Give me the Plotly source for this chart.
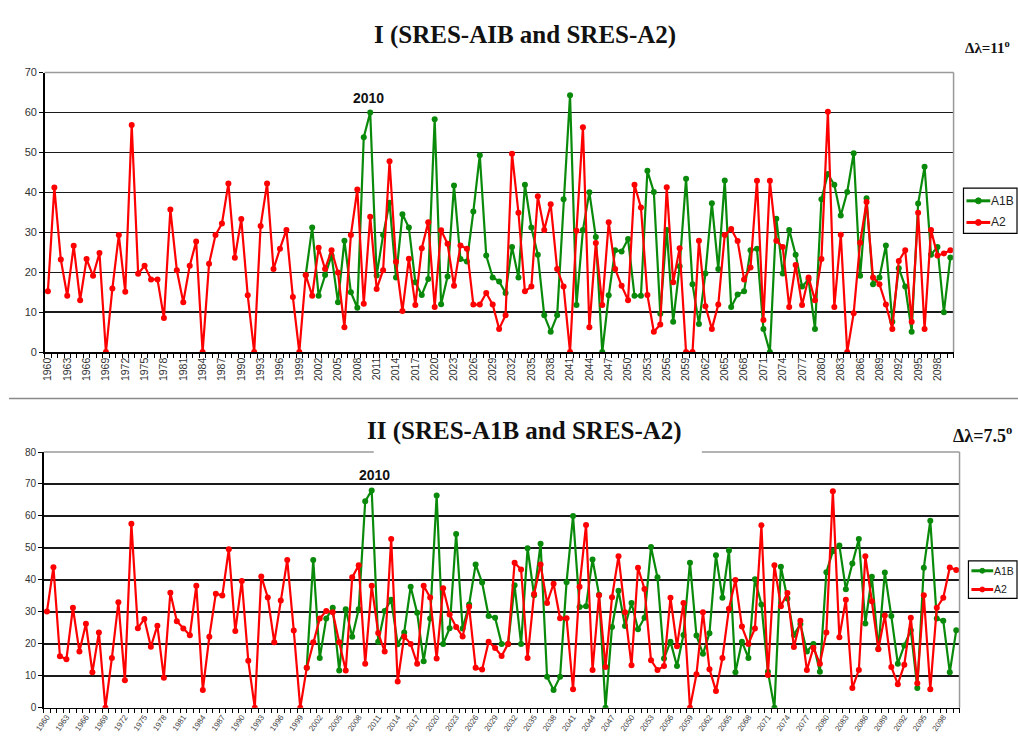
import plotly.graph_objects as go

years = list(range(1960, 2101))
years_a1b = list(range(2000, 2101))
tick_years = list(range(1960, 2101, 3))
tick_labels = [str(y) for y in tick_years]

top_a2 = [15.2, 41.2, 23.2, 14.1, 26.6, 13.0, 23.3, 19.1, 24.8, 0,
          15.9, 29.3, 15.1, 56.9, 19.6, 21.6, 18.2, 18.2, 8.5, 35.7,
          20.5, 12.5, 21.6, 27.7, 0, 22.1, 29.3, 32.2, 42.2, 23.6,
          33.3, 14.2, 0, 31.6, 42.2, 20.8, 25.9, 30.6, 13.8, 0,
          19.3, 14.1, 26.1, 20.8, 25.5, 19.9, 6.2, 29.3, 40.7, 12.1,
          33.9, 15.8, 20.5, 47.8, 22.6, 10.3, 23.4, 11.8, 26.0, 32.5,
          11.3, 30.5, 27.1, 16.6, 26.7, 25.9, 11.9, 11.9, 14.8, 11.9,
          5.8, 9.2, 49.7, 34.9, 15.2, 16.4, 39.0, 30.6, 37.0, 20.8,
          16.4, 0, 30.4, 56.3, 6.2, 27.3, 11.8, 32.5, 20.8, 16.6,
          13.0, 41.9, 36.2, 14.3, 5.1, 6.9, 41.3, 17.5, 26.0, 0,
          0, 27.9, 11.5, 5.8, 11.9, 29.3, 30.8, 27.8, 18.2, 21.2,
          42.9, 8.0, 42.9, 27.9, 26.3, 11.3, 21.8, 11.8, 18.7, 13.0,
          23.3, 60.2, 11.3, 29.4, 0, 9.7, 27.4, 37.6, 18.7, 17.0,
          11.9, 5.8, 22.8, 25.5, 7.6, 34.9, 5.8, 30.6, 24.2, 24.7,
          25.5]

top_a1b = [19.3, 31.2, 14.1, 19.3, 24.2, 12.5, 27.9, 15.0, 11.1, 53.8,
           60.0, 19.2, 29.3, 37.4, 18.7, 34.5, 31.2, 17.5, 14.3, 18.3,
           58.3, 12.0, 18.9, 41.7, 23.3, 22.7, 35.2, 49.3, 24.2, 18.7,
           17.7, 14.8, 26.3, 18.7, 41.9, 31.2, 24.4, 9.2, 5.1, 9.2,
           38.3, 64.3, 11.8, 30.6, 40.0, 28.8, 0, 14.2, 25.5, 25.2,
           28.3, 14.1, 14.1, 45.4, 40.1, 9.6, 30.6, 7.6, 21.5, 43.4,
           17.0, 7.0, 19.7, 37.3, 20.8, 43.0, 11.3, 14.4, 15.2, 25.5,
           25.9, 5.8, 0, 33.4, 19.7, 30.6, 24.4, 16.4, 18.2, 5.8,
           38.3, 44.6, 41.9, 34.2, 40.1, 49.8, 19.1, 38.5, 17.0, 18.7,
           26.7, 7.6, 21.0, 16.4, 5.1, 37.2, 46.4, 24.4, 26.3, 10.0,
           23.7]

bot_a2 = [30.1, 44.0, 16.1, 15.2, 31.3, 17.6, 26.3, 11.1, 23.6, 0,
          15.6, 33.0, 8.6, 57.6, 24.9, 27.8, 19.1, 25.7, 9.4, 36.0,
          27.1, 24.8, 22.7, 38.2, 5.6, 22.2, 35.7, 35.1, 49.6, 24.0,
          39.7, 14.7, 0, 41.1, 34.5, 20.5, 33.6, 46.2, 24.2, 0,
          12.5, 20.5, 27.9, 30.3, 29.9, 20.5, 11.7, 40.8, 44.6, 13.8,
          38.2, 23.4, 17.6, 52.8, 8.2, 22.3, 20.0, 13.8, 38.2, 34.5,
          15.4, 37.4, 29.2, 25.3, 22.3, 31.6, 12.5, 12.0, 20.7, 18.7,
          16.2, 20.0, 45.4, 43.3, 15.6, 35.6, 44.8, 32.8, 38.8, 28.0,
          28.0, 5.8, 37.9, 57.2, 11.8, 35.2, 12.8, 34.6, 47.4, 29.9,
          13.3, 43.8, 37.2, 14.9, 11.8, 13.1, 34.4, 19.3, 32.8, 0,
          10.5, 29.9, 12.1, 5.3, 15.6, 31.0, 40.0, 25.4, 20.0, 24.8,
          57.1, 10.3, 44.6, 31.8, 35.9, 19.0, 27.2, 11.8, 18.8, 13.8,
          23.6, 67.7, 22.1, 33.8, 6.2, 11.8, 47.4, 33.3, 18.3, 28.9,
          12.8, 7.4, 13.5, 28.2, 7.7, 35.2, 5.8, 31.3, 34.4, 43.9,
          43.1]

bot_a1b = [12.5, 46.2, 15.6, 27.9, 31.3, 11.7, 30.8, 22.2, 30.8, 64.6,
           68.0, 20.7, 30.3, 33.8, 19.9, 23.6, 37.9, 29.7, 14.6, 27.9,
           66.4, 20.0, 24.9, 54.4, 24.8, 32.3, 44.8, 39.2, 28.7, 28.2,
           20.0, 20.0, 38.3, 20.0, 49.9, 35.2, 51.3, 9.7, 5.6, 9.7,
           39.3, 60.0, 31.5, 31.8, 46.4, 35.4, 0, 25.3, 36.6, 25.6,
           32.8, 24.6, 28.2, 50.3, 40.8, 15.4, 20.7, 13.1, 22.8, 45.4,
           22.6, 16.9, 23.3, 47.7, 34.4, 49.2, 11.1, 20.7, 15.6, 40.2,
           32.3, 11.3, 0, 44.1, 34.2, 22.8, 26.2, 17.6, 20.0, 11.3,
           42.4, 49.0, 50.8, 37.1, 45.1, 52.8, 26.4, 41.0, 18.5, 42.3,
           28.7, 13.8, 19.5, 24.3, 6.2, 43.8, 58.5, 27.9, 27.2, 11.1,
           24.3]

series_names = ["A1B", "A2"]

GREEN = "#0a8a0a"
RED = "#ff0000"
COLORS = [GREEN, RED]
W, H = 1018, 747
SERIF = "Liberation Serif, Times New Roman, serif"


def px_x(v):
    return v / W


def px_y(v):
    return 1 - v / H


fig = go.Figure()

fig.add_trace(go.Scatter(x=years_a1b, y=top_a1b, name=series_names[0], mode="lines+markers",
                         line=dict(color=GREEN, width=2.2), marker=dict(size=6, color=GREEN),
                         xaxis="x", yaxis="y", showlegend=False))
fig.add_trace(go.Scatter(x=years, y=top_a2, name=series_names[1], mode="lines+markers",
                         line=dict(color=RED, width=2.2), marker=dict(size=6, color=RED),
                         xaxis="x", yaxis="y", showlegend=False))
fig.add_trace(go.Scatter(x=years_a1b, y=bot_a1b, name=series_names[0], mode="lines+markers",
                         line=dict(color=GREEN, width=2.2), marker=dict(size=6, color=GREEN),
                         xaxis="x2", yaxis="y2", showlegend=False))
fig.add_trace(go.Scatter(x=years, y=bot_a2, name=series_names[1], mode="lines+markers",
                         line=dict(color=RED, width=2.2), marker=dict(size=6, color=RED),
                         xaxis="x2", yaxis="y2", showlegend=False))

top_dom_x = [px_x(36), px_x(953)]
top_dom_y = [px_y(351.7), px_y(67.7)]
bot_dom_x = [px_x(35), px_x(959)]
bot_dom_y = [px_y(713.3), px_y(453.3)]

xcommon = dict(range=[1959.5, 2100.5], tickmode="array", tickvals=tick_years, ticktext=tick_labels,
               showgrid=False, zeroline=False, showline=True, linecolor="black", linewidth=1.5,
               ticks="", ticklen=0,
               minor=dict(ticks="outside", ticklen=4, tickcolor="black", tick0=1959.5, dtick=1,
                          showgrid=False))
ycommon = dict(dtick=10, showgrid=True, gridcolor="#1a1a1a", gridwidth=1.3, zeroline=False,
               showline=True, linecolor="black", linewidth=1.5, ticks="outside", ticklen=4,
               tickcolor="black")

fig.update_layout(
    width=W, height=H, margin=dict(l=0, r=0, t=0, b=0),
    plot_bgcolor="white", paper_bgcolor="white",
    font=dict(family="Arial, Liberation Sans, sans-serif", color="#222"),
    xaxis=dict(domain=top_dom_x, anchor="y", tickangle=-90,
               tickfont=dict(size=10.5, color="#333"), **xcommon),
    yaxis=dict(domain=top_dom_y, anchor="x", range=[0, 70],
               tickfont=dict(size=11, color="#333"), **ycommon),
    xaxis2=dict(domain=bot_dom_x, anchor="y2", tickangle=-55,
                tickfont=dict(size=8, color="#444"), **xcommon),
    yaxis2=dict(domain=bot_dom_y, anchor="x2", range=[0, 80],
                tickfont=dict(size=10, color="#333"), **ycommon),
    showlegend=False,
)

shapes = []
GRAY = "#9a9a9a"
# top chart gray border (top and right)
shapes.append(dict(type="line", xref="paper", yref="paper", x0=top_dom_x[0], x1=top_dom_x[1],
                   y0=top_dom_y[1], y1=top_dom_y[1], line=dict(color=GRAY, width=1.5)))
shapes.append(dict(type="line", xref="paper", yref="paper", x0=top_dom_x[1], x1=top_dom_x[1],
                   y0=top_dom_y[0], y1=top_dom_y[1], line=dict(color=GRAY, width=1.5)))
# bottom chart border: top split by title box, right side
shapes.append(dict(type="line", xref="paper", yref="paper", x0=bot_dom_x[0], x1=px_x(368),
                   y0=bot_dom_y[1], y1=bot_dom_y[1], line=dict(color=GRAY, width=1.5)))
shapes.append(dict(type="line", xref="paper", yref="paper", x0=px_x(699), x1=bot_dom_x[1],
                   y0=bot_dom_y[1], y1=bot_dom_y[1], line=dict(color=GRAY, width=1.5)))
shapes.append(dict(type="line", xref="paper", yref="paper", x0=bot_dom_x[1], x1=bot_dom_x[1],
                   y0=bot_dom_y[0], y1=bot_dom_y[1], line=dict(color=GRAY, width=1.5)))
# separator between the two panels
shapes.append(dict(type="line", xref="paper", yref="paper", x0=0, x1=1,
                   y0=px_y(399), y1=px_y(399), line=dict(color="#8a8a8a", width=1.5)))

annotations = []

# custom legends (box, line sample with marker, label)
legend_specs = [
    (963, 1017, 185, 231, 966, 990, [198, 220], 12, 6),
    (968, 1017, 564, 602, 971, 993, [574, 593], 10.5, 5),
]
for bx0, bx1, by0, by1, lx0, lx1, rows, fsz, msz in legend_specs:
    shapes.append(dict(type="rect", xref="paper", yref="paper", x0=px_x(bx0), x1=px_x(bx1),
                       y0=px_y(by1), y1=px_y(by0), line=dict(color="black", width=1.2),
                       fillcolor="white"))
    for name, col, ry in zip(series_names, COLORS, rows):
        shapes.append(dict(type="line", xref="paper", yref="paper", x0=px_x(lx0), x1=px_x(lx1),
                           y0=px_y(ry), y1=px_y(ry), line=dict(color=col, width=3)))
        cx = (lx0 + lx1) / 2
        shapes.append(dict(type="circle", xref="paper", yref="paper",
                           x0=px_x(cx - msz / 2), x1=px_x(cx + msz / 2),
                           y0=px_y(ry + msz / 2), y1=px_y(ry - msz / 2),
                           line=dict(color=col, width=1), fillcolor=col))
        annotations.append(dict(text=name, x=px_x(lx1), y=px_y(ry), xref="paper", yref="paper",
                                xanchor="left", yanchor="middle", showarrow=False,
                                borderpad=0, font=dict(size=fsz, color="#222")))

fig.update_layout(shapes=shapes)

annotations += [
    dict(text="<b>I (SRES-AIB and SRES-A2)</b>", x=px_x(521), y=px_y(29), xref="paper", yref="paper",
         xanchor="center", yanchor="middle", showarrow=False,
         font=dict(family=SERIF, size=25, color="#111")),
    dict(text="<b>II (SRES-A1B and SRES-A2)</b>", x=px_x(520), y=px_y(432), xref="paper", yref="paper",
         xanchor="center", yanchor="middle", showarrow=False,
         font=dict(family=SERIF, size=25, color="#111")),
    dict(text="<b>Δλ=11<sup>o</sup></b>", x=px_x(1012), y=px_y(42), xref="paper", yref="paper",
         xanchor="right", yanchor="middle", showarrow=False,
         font=dict(family=SERIF, size=15, color="#111")),
    dict(text="<b>Δλ=7.5<sup>o</sup></b>", x=px_x(1014), y=px_y(436), xref="paper", yref="paper",
         xanchor="right", yanchor="middle", showarrow=False,
         font=dict(family=SERIF, size=18, color="#111")),
    dict(text="<b>2010</b>", x=px_x(363), y=px_y(93), xref="paper", yref="paper",
         xanchor="center", yanchor="middle", showarrow=False, font=dict(size=14, color="#111")),
    dict(text="<b>2010</b>", x=px_x(369), y=px_y(477), xref="paper", yref="paper",
         xanchor="center", yanchor="middle", showarrow=False, font=dict(size=14, color="#111")),
]
fig.update_layout(annotations=annotations)

fig.write_html("out.html", config={"displayModeBar": False, "staticPlot": True},
               post_script="document.body.style.margin='0';document.body.style.overflow='hidden';")
